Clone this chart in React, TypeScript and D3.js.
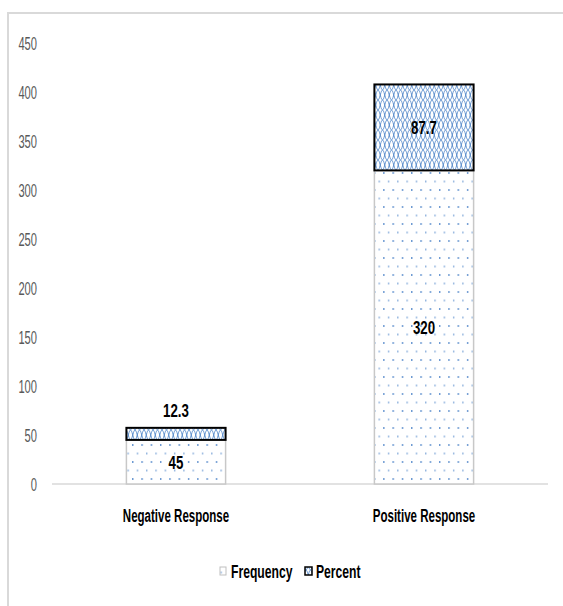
import React from "react";
import * as d3 from "d3";

// Response categories and stacked series
const categories = ["Negative Response", "Positive Response"];
const frequency = [45, 320];
const percent = [12.3, 87.7];
const yTicks = [0, 50, 100, 150, 200, 250, 300, 350, 400, 450];
const legendLabels = ["Frequency", "Percent"];

const W = 563;
const H = 606;
const FONT = "'Liberation Sans', 'DejaVu Sans', sans-serif";

// Narrow text drawn with a horizontal squeeze
function NText(props: {
  x: number;
  y: number;
  text: string;
  size: number;
  sx: number;
  anchor?: string;
  weight?: string | number;
  fill?: string;
}) {
  const { x, y, text, size, sx, anchor = "middle", weight = "bold", fill = "#000" } = props;
  return (
    <text
      transform={`translate(${x},${y}) scale(${sx},1)`}
      textAnchor={anchor}
      dominantBaseline="central"
      fontFamily={FONT}
      fontSize={size}
      fontWeight={weight}
      fill={fill}
    >
      {text}
    </text>
  );
}

export default function App() {
  const x = d3
    .scaleBand<string>()
    .domain(categories)
    .range([52, 548])
    .paddingInner(0.6)
    .paddingOuter(0.3);
  const y = d3.scaleLinear().domain([0, 450]).range([484, 43]);

  const blue = "#2e6fbf";

  // sine lattice for the hatched pattern
  const wave = (sign: number) => {
    const pts: [number, number][] = [];
    for (let i = 0; i <= 18; i++) {
      const px = (i / 18) * 9;
      pts.push([px, 5 + sign * 5 * Math.cos((2 * Math.PI * px) / 9)]);
    }
    return d3.line()(pts) as string;
  };

  return (
    <svg
      width={W}
      height={H}
      style={{ display: "block", position: "absolute", left: 0, top: 0 }}
    >
      <defs>
        <pattern id="dots" width={9.3} height={17} patternUnits="userSpaceOnUse">
          <rect width={9.3} height={17} fill="#fff" />
          <rect x={2} y={2} width={1.2} height={2} fill={blue} opacity={0.85} />
          <rect x={6.65} y={10.5} width={1.2} height={2} fill={blue} opacity={0.6} />
        </pattern>
        <pattern id="lattice" width={9} height={10} patternUnits="userSpaceOnUse">
          <rect width={9} height={10} fill="#fff" />
          <path d={wave(1)} fill="none" stroke={blue} strokeWidth={0.9} opacity={0.8} />
          <path d={wave(-1)} fill="none" stroke={blue} strokeWidth={0.9} opacity={0.8} />
        </pattern>
      </defs>

      <rect width={W} height={H} fill="#fff" />
      {/* chart frame */}
      <rect x={8} y={13} width={W + 10} height={H + 10} fill="#fff" stroke="#d9d9d9" strokeWidth={2} />

      {/* y tick labels */}
      {yTicks.map((t) => (
        <NText key={t} x={37} y={y(t)} text={String(t)} size={18} sx={0.62} anchor="end" weight="normal" fill="#595959" />
      ))}

      {/* baseline */}
      <line x1={52} x2={548} y1={y(0)} y2={y(0)} stroke="#d9d9d9" strokeWidth={1.5} />

      {/* stacked bars */}
      {categories.map((c, i) => {
        const bx = x(c) as number;
        const bw = x.bandwidth();
        const f0 = y(0);
        const f1 = y(frequency[i]);
        const p1 = y(frequency[i] + percent[i]);
        const cx = bx + bw / 2;
        return (
          <g key={c}>
            <rect x={bx} y={f1} width={bw} height={f0 - f1} fill="url(#dots)" stroke="#c8c8c8" strokeWidth={1.5} />
            <rect x={bx} y={p1} width={bw} height={f1 - p1} fill="url(#lattice)" stroke="#000" strokeWidth={2} />
            <NText x={cx} y={(f0 + f1) / 2} text={String(frequency[i])} size={19} sx={0.7} />
            {f1 - p1 > 25 ? (
              <NText x={cx} y={(f1 + p1) / 2} text={String(percent[i])} size={19} sx={0.7} />
            ) : (
              <NText x={cx} y={p1 - 18} text={String(percent[i])} size={19} sx={0.7} />
            )}
            <NText x={cx} y={515} text={c} size={18} sx={0.64} />
          </g>
        );
      })}

      {/* legend */}
      <g>
        <rect x={220} y={567} width={6} height={8} fill="url(#dots)" stroke="#bfbfbf" strokeWidth={1} />
        <NText x={231} y={571} text={legendLabels[0]} size={19} sx={0.64} anchor="start" />
        <rect x={305} y={567} width={7} height={8} fill="url(#lattice)" stroke="#000" strokeWidth={1.5} />
        <NText x={316} y={571} text={legendLabels[1]} size={19} sx={0.64} anchor="start" />
      </g>
    </svg>
  );
}
